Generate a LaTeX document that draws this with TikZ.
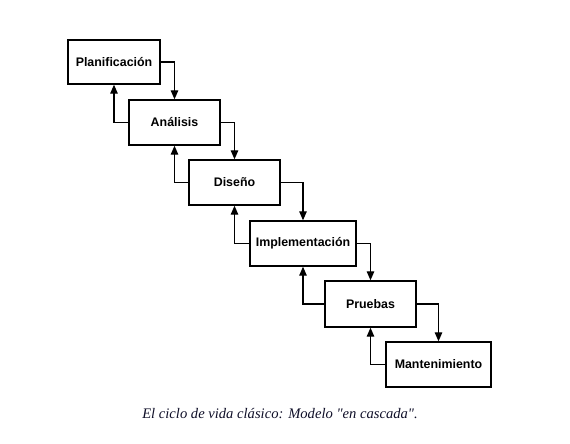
\documentclass[tikz,border=0pt]{standalone}
\usepackage{fontspec}
\setmainfont{Liberation Serif}
\setsansfont{Liberation Sans}
\newfontfamily\capfont{Liberation Serif}
\usetikzlibrary{arrows.meta}
\definecolor{capcol}{RGB}{15,15,40}
\begin{document}
\begin{tikzpicture}[x=1pt,y=-1pt,
  stage/.style={draw, line width=1.4pt, rectangle, inner sep=0pt, font=\sffamily\bfseries\fontsize{12.4}{14}\selectfont},
  flow/.style={line width=1.3pt, -{Triangle[length=9pt,width=7.5pt]}}]
\useasboundingbox (0,0) rectangle (570,444);
\node[stage, minimum width=92pt, minimum height=44pt] (p) at (114,62) {Planificación};
\node[stage, minimum width=91pt, minimum height=45pt] (a) at (174.5,122.5) {Análisis};
\node[stage, minimum width=91pt, minimum height=45pt] (d) at (234.5,182.5) {Diseño};
\node[stage, minimum width=106pt, minimum height=45pt] (i) at (303,243.5) {Implementación};
\node[stage, minimum width=91pt, minimum height=46pt] (pr) at (370.5,304) {Pruebas};
\node[stage, minimum width=105pt, minimum height=45pt] (m) at (438.5,364.5) {Mantenimiento};
\draw[flow] (p.east) -| (a.north);
\draw[flow] (a.east) -| (d.north);
\draw[flow] (d.east) -| (i.north);
\draw[flow] (i.east) -| (pr.north);
\draw[flow] (pr.east) -| (m.north);
\draw[flow] (a.west) -| (p.south);
\draw[flow] (d.west) -| (a.south);
\draw[flow] (i.west) -| (d.south);
\draw[flow] (pr.west) -| (i.south);
\draw[flow] (m.west) -| (pr.south);
\node[text=capcol, font=\capfont\itshape\fontsize{14.6}{16}\selectfont] (cap) at (280,414) {El ciclo de vida clásico: Modelo "en cascada".};
\end{tikzpicture}
\end{document}
